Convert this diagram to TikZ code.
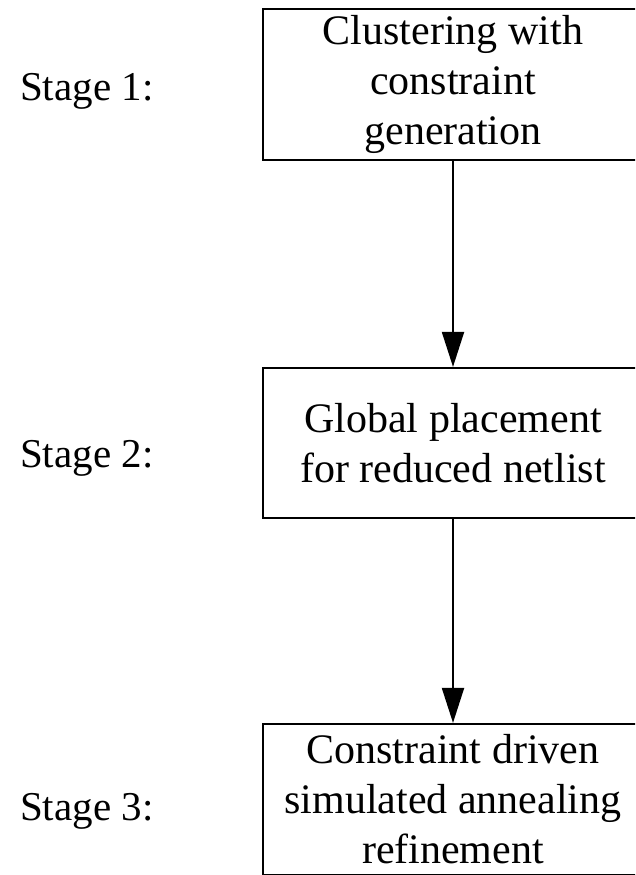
\documentclass[tikz,border=0pt]{standalone}
\usepackage{fontspec}
\setmainfont{Liberation Serif}
\usetikzlibrary{arrows.meta}

\tikzset{
  stagebox/.style={draw, line width=2.2pt, minimum width=380pt, minimum height=151pt,
    align=center, inner sep=0pt, font=\fontsize{42}{50}\selectfont},
  stagelabel/.style={anchor=base west, inner sep=0pt, font=\fontsize{41}{50}\selectfont},
  flow/.style={line width=2pt, -{Triangle[length=35pt,width=22pt]}}
}

\begin{document}
\begin{tikzpicture}[x=1pt, y=-1pt]
                \useasboundingbox (0,0) rectangle (635,875);
                \clip (0,0) rectangle (635,875);

                % Stage 1
                \node[stagelabel] (lab1) at (20,100) {Stage 1:};
                \node[stagebox] (clust) at (453,84.5) {Clustering with\\constraint\\generation};

                % Stage 2
                \node[stagelabel] (lab2) at (20,467) {Stage 2:};
                \node[stagebox, minimum height=150pt] (glob) at (453,443) {Global placement\\for reduced netlist};

                % Stage 3
                \node[stagelabel] (lab3) at (20,820) {Stage 3:};
                \node[stagebox] (anneal) at (453,799.5) {Constraint driven\\simulated annealing\\refinement};

                % flow between stages
                \draw[flow] (clust.south) -- (glob.north);
                \draw[flow] (glob.south) -- (anneal.north);
            \end{tikzpicture}
\end{document}
